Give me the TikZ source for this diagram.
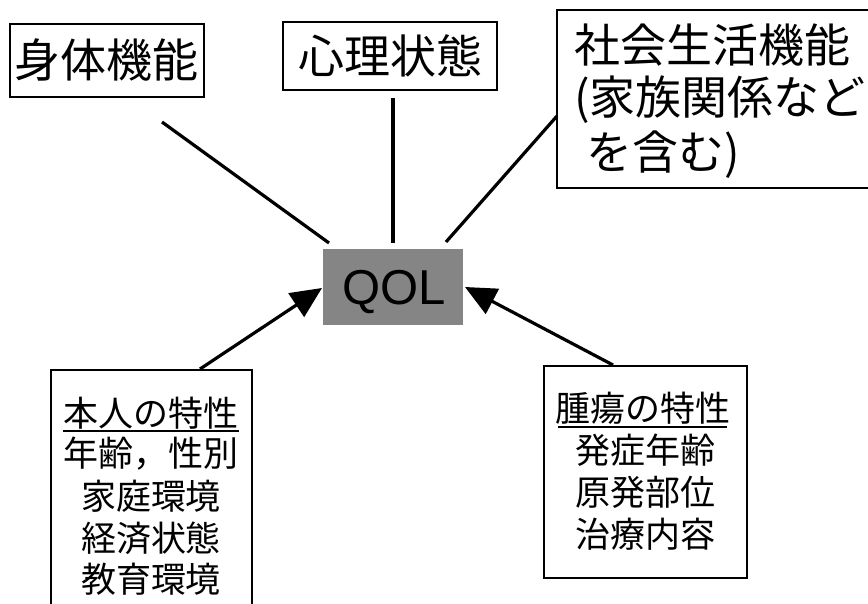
\documentclass[tikz,border=0pt]{standalone}
\usepackage{fontspec}
\setmainfont{Liberation Sans}
\newfontfamily\jp{Noto Sans CJK JP}
\usetikzlibrary{arrows.meta}
\begin{document}
\begin{tikzpicture}[x=1pt,y=-1pt,
  box/.style={draw,line width=1.1pt,inner sep=0pt},
  conn/.style={line width=3.2pt},
  arr/.style={line width=3.2pt,-{Triangle[length=31pt,width=28pt]}},
  big/.style={font=\jp\fontsize{46}{46}\selectfont,inner sep=0pt},
  small/.style={font=\jp\fontsize{35}{35}\selectfont,inner sep=0pt},
  uline/.style={line width=1.2pt},
]
\useasboundingbox (0,0) rectangle (868,604);
\clip (0,0) rectangle (868,604);

% top boxes
\node[box,minimum width=194pt,minimum height=73pt] (b1) at (107,60.5) {};
\node[big] (t1) at (107,60) {身体機能};
\node[box,minimum width=214pt,minimum height=68pt] (b2) at (390,56) {};
\node[big] (t2) at (390,56) {心理状態};
\node[box,minimum width=323pt,minimum height=178pt] (b3) at (718.5,99) {};
\node[big,anchor=west] (t3a) at (574,45) {社会生活機能};
\node[big,anchor=west] (t3b) at (574,100) {(家族関係など};
\node[big,anchor=west] (t3c) at (586,155) {を含む)};

% QOL
\node[fill=black!48,minimum width=140pt,minimum height=76pt,inner sep=0pt] (q) at (393,287) {};
\node[anchor=base,font=\fontsize{49}{49}\selectfont,inner sep=0pt] (qt) at (394,305) {QOL};

% bottom boxes
\node[box,minimum width=201pt,minimum height=250pt] (b4) at (151.5,495) {};
\node[small] (p0) at (151,413) {本人の特性};
\node[small] (p1) at (151,454) {年齢，性別};
\node[small] (p2) at (151,496) {家庭環境};
\node[small] (p3) at (151,538) {経済状態};
\node[small] (p4) at (151,579) {教育環境};
\draw[uline] (63,431) -- (239,431);

\node[box,minimum width=203pt,minimum height=212pt] (b5) at (645.5,472) {};
\node[small] (r0) at (642.5,408) {腫瘍の特性};
\node[small] (r1) at (645,450) {発症年齢};
\node[small] (r2) at (645,492) {原発部位};
\node[small] (r3) at (645,534) {治療内容};
\draw[uline] (558,427) -- (727,427);

% connectors
\coordinate (c1s) at (162,122);
\coordinate (c1e) at (329,243);
\coordinate (c2s) at (393,98);
\coordinate (c2e) at (393,243);
\coordinate (c3s) at (557,116);
\coordinate (c3e) at (446,242);
\draw[conn] (c1s) -- (c1e);
\draw[conn] (c2s) -- (c2e);
\draw[conn] (c3s) -- (c3e);

\coordinate (a1s) at (200,369);
\coordinate (a1e) at (322,288);
\coordinate (a2s) at (613,365);
\coordinate (a2e) at (465,287);
\draw[arr] (a1s) -- (a1e);
\draw[arr] (a2s) -- (a2e);
\end{tikzpicture}
\end{document}
